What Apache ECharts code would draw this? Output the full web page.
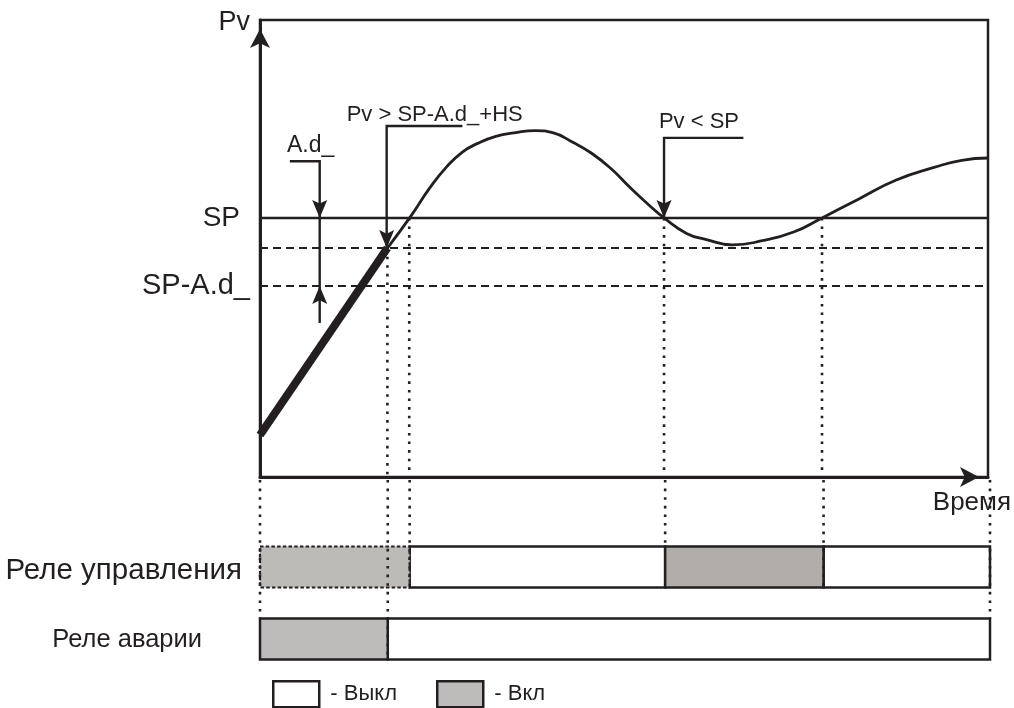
<!DOCTYPE html>
<html><head><meta charset="utf-8">
<script src="https://cdn.jsdelivr.net/npm/echarts@6/dist/echarts.min.js"></script>
<style>html,body{margin:0;padding:0;background:#fff}#c{width:1014px;height:708px}</style>
</head><body><div id="c"></div>
<script>
const INK = '#231f20';
const FONT = '"Liberation Sans", Arial, sans-serif';

// ---- levels (Pv units) ----
const SP = 56.7;      // SP
const SP_HS = 50.1;   // SP-A.d_+HS
const SP_AD = 41.8;   // SP-A.d_

// ---- process value ----
const rampPts = [[0, 9.2], [17.5, 50.1]];
const curvePts = [[17.5,50.1],[20.55,56.7],[23.3,63.2],[25.6,67.8],[27.8,71.1],[29.9,73.0],[32.5,74.6],[34.9,75.3],[37.8,75.8],[40.3,75.3],[42.9,73.3],[45.5,70.9],[48.2,67.5],[50.8,63.4],[53.3,59.7],[55.5,56.7],[58.6,53.3],[61.2,52.0],[64.9,50.8],[69.0,51.7],[73.3,53.6],[77.2,56.7],[82.2,60.8],[87.4,65.0],[92.7,67.8],[96.4,69.3],[100,69.8]];

// ---- relays ----
const relayRows = ['Реле аварии', 'Реле управления'];   // row 0, row 1
const controlOn = [[0, 20.5], [55.5, 77.2]];
const alarmOn = [[0, 17.5]];
const T_END = 100;

// ---- annotations ----
const arrowPaths = [
  [[4.1, 69.1], [8.2, 69.1], [8.2, SP]],
  [[8.2, 33.7], [8.2, SP_AD]],
  [[27.8, 76.8], [17.4, 76.8], [17.4, SP_HS]],
  [[66.4, 74.2], [55.5, 74.2], [55.5, SP]]
];
const plainPaths = [[[8.2, SP], [8.2, SP_AD]]];
const noteTexts = ['Pv > SP-A.d_+HS', 'Pv < SP', 'A.d_'];
const notePos = [[11.9, 79.2], [54.8, 77.7], [3.7, 72.6]];
const noteSizes = [22, 22, 23];

// dotted event markers: time, Pv level where it starts, relay row where it ends, edge
const markers = [
  [0, 0, 0, 'top'],
  [17.5, SP_HS, 0, 'bottom'],
  [20.5, SP, 1, 'bottom'],
  [55.5, SP, 1, 'top'],
  [77.2, SP, 1, 'bottom'],
  [100, 0, 0, 'top']
];

function complement(on, end) {
  const off = []; let cur = 0;
  on.forEach(s => { if (s[0] > cur) off.push([cur, s[0]]); cur = s[1]; });
  if (cur < end) off.push([cur, end]);
  return off;
}
const offData = [];
complement(alarmOn, T_END).forEach(s => offData.push([s[0], s[1], 0]));
complement(controlOn, T_END).forEach(s => offData.push([s[0], s[1], 1]));
const onData = [];
const onColors = [];
const onDashed = [];
alarmOn.forEach(s => { onData.push([s[0], s[1], 0]); onColors.push('#bebcba'); onDashed.push(false); });
controlOn.forEach((s, i) => { onData.push([s[0], s[1], 1]); onColors.push(i === 0 ? '#bdbbb8' : '#b1ada9'); onDashed.push(i === 0); });

const DOT = [2.6, 6];
const BAR_FRAC = 0.57;

function arrowHead(p, q, len, hw) {
  const dx = q[0] - p[0], dy = q[1] - p[1];
  const L = Math.sqrt(dx * dx + dy * dy) || 1;
  const ux = dx / L, uy = dy / L;
  const bx = q[0] - ux * len, by = q[1] - uy * len;
  return [[q[0], q[1]], [bx - uy * hw, by + ux * hw], [q[0] - ux * len * 0.8, q[1] - uy * len * 0.8], [bx + uy * hw, by - ux * hw]];
}

const chart = echarts.init(document.getElementById('c'), null, {renderer: 'canvas'});
const option = {
  backgroundColor: '#fff',
  animation: false,
  textStyle: {fontFamily: FONT, color: INK},
  grid: [
    {left: 260, right: 24, top: 20, height: 457, show: true, borderColor: INK, borderWidth: 2.5, backgroundColor: 'transparent'},
    {left: 260, right: 24, top: 477, height: 198}
  ],
  xAxis: [
    {gridIndex: 0, type: 'value', min: 0, max: T_END,
     axisLine: {show: true, onZero: false, symbol: ['none', 'arrow'], symbolSize: [15, 19], symbolOffset: [0, -9], lineStyle: {color: INK, width: 3}},
     axisTick: {show: false}, axisLabel: {show: false}, splitLine: {show: false},
     name: 'Время', nameLocation: 'end', nameGap: 23,
     nameTextStyle: {fontSize: 26, color: INK, fontFamily: FONT, align: 'right', verticalAlign: 'top', padding: [13, 0, 0, 0]}},
    {gridIndex: 1, type: 'value', min: 0, max: T_END, show: false}
  ],
  yAxis: [
    {gridIndex: 0, type: 'value', min: 0, max: 100,
     axisLine: {show: true, onZero: false, symbol: ['none', 'arrow'], symbolSize: [15, 19], symbolOffset: [0, -9], lineStyle: {color: INK, width: 3}},
     axisTick: {show: false}, splitLine: {show: false},
     axisLabel: {show: true, customValues: [SP, SP_AD], margin: 10,
       formatter: v => (Math.abs(v - SP) < 0.01 ? '{a|SP}' : '{b|SP-A.d_}'),
       rich: {a: {fontSize: 28, color: INK, fontFamily: FONT, padding: [0, 10, 0, 0]}, b: {fontSize: 29, color: INK, fontFamily: FONT}}},
     name: 'Pv', nameLocation: 'end', nameGap: -3,
     nameTextStyle: {fontSize: 27, color: INK, fontFamily: FONT, align: 'right', verticalAlign: 'middle', padding: [0, 10, 0, 0]}},
    {gridIndex: 1, type: 'value', min: -0.5, max: 2.25,
     axisLine: {show: false}, axisTick: {show: false}, splitLine: {show: false},
     axisLabel: {show: true, customValues: [0, 1], margin: 18,
       formatter: v => (v === 1 ? '{c|' + relayRows[1] + '}' : '{a|' + relayRows[0] + '}'),
       rich: {c: {fontSize: 29.5, color: INK, fontFamily: FONT, padding: [8, 0, 0, 0]}, a: {fontSize: 25.5, color: INK, fontFamily: FONT, padding: [2, 40, 0, 0]}}}}
  ],
  legend: {
    left: 272, top: 680, padding: 0, itemWidth: 46, itemHeight: 26, itemGap: 39, icon: 'rect', selectedMode: false,
    formatter: name => ' ' + name,
    textStyle: {fontSize: 22, color: INK, fontFamily: FONT},
    data: [
      {name: '- Выкл', itemStyle: {color: '#fff', borderColor: INK, borderWidth: 2.5}},
      {name: '- Вкл', itemStyle: {color: '#bdbcba', borderColor: INK, borderWidth: 2.5}}
    ]
  },
  series: [
    {type: 'line', xAxisIndex: 0, yAxisIndex: 0, data: curvePts, smooth: 0.5, showSymbol: false, silent: true,
     lineStyle: {color: INK, width: 2.8}, z: 3,
     markLine: {silent: true, symbol: 'none', label: {show: false},
       data: [
         {yAxis: SP, lineStyle: {color: INK, width: 2.4, type: 'solid'}},
         {yAxis: SP_HS, lineStyle: {color: INK, width: 2.2, type: [8, 5]}},
         {yAxis: SP_AD, lineStyle: {color: INK, width: 2.2, type: [8, 5]}}
       ]}},
    {type: 'line', xAxisIndex: 0, yAxisIndex: 0, data: rampPts, showSymbol: false, silent: true,
     lineStyle: {color: INK, width: 8, cap: 'butt'}, z: 3},
    // dotted markers in Pv chart
    {type: 'custom', xAxisIndex: 0, yAxisIndex: 0, silent: true, clip: false, z: 4,
     data: markers.map(m => [m[0], m[1]]),
     renderItem: (params, api) => {
       const a = api.coord([api.value(0), api.value(1)]);
       const b = api.coord([api.value(0), 0]);
       if (Math.abs(a[1] - b[1]) < 1) return null;
       return {type: 'line', shape: {x1: a[0], y1: a[1], x2: b[0], y2: b[1]},
               style: {stroke: INK, lineWidth: 2.6, lineDash: DOT}};
     }},
    // annotation arrows
    {type: 'custom', xAxisIndex: 0, yAxisIndex: 0, silent: true, clip: false, z: 5,
     data: arrowPaths.map(p => p[0]),
     renderItem: (params, api) => {
       const pts = arrowPaths[params.dataIndex].map(p => api.coord(p));
       const n = pts.length;
       return {type: 'group', children: [
         {type: 'polyline', shape: {points: pts}, style: {stroke: INK, lineWidth: 2.4, fill: null}},
         {type: 'polygon', shape: {points: arrowHead(pts[n - 2], pts[n - 1], 18, 7.5)}, style: {fill: INK}}
       ]};
     }},
    {type: 'custom', xAxisIndex: 0, yAxisIndex: 0, silent: true, clip: false, z: 5,
     data: plainPaths.map(p => p[0]),
     renderItem: (params, api) => {
       const pts = plainPaths[params.dataIndex].map(p => api.coord(p));
       return {type: 'polyline', shape: {points: pts}, style: {stroke: INK, lineWidth: 2.4, fill: null}};
     }},
    // annotation texts
    {type: 'custom', xAxisIndex: 0, yAxisIndex: 0, silent: true, clip: false, z: 6,
     data: notePos,
     renderItem: (params, api) => {
       const p = api.coord([api.value(0), api.value(1)]);
       return {type: 'text', x: p[0], y: p[1],
               style: {text: noteTexts[params.dataIndex], fill: INK, fontSize: noteSizes[params.dataIndex], fontFamily: FONT, align: 'left', verticalAlign: 'middle'}};
     }},
    // relay off segments
    {name: '- Выкл', type: 'custom', xAxisIndex: 1, yAxisIndex: 1, silent: true, clip: false, z: 2,
     itemStyle: {color: '#fff'},
     data: offData,
     renderItem: (params, api) => {
       const s = api.coord([api.value(0), api.value(2)]);
       const e = api.coord([api.value(1), api.value(2)]);
       const h = api.size([0, 1])[1] * BAR_FRAC;
       return {type: 'rect', shape: {x: s[0], y: s[1] - h / 2, width: e[0] - s[0], height: h},
               style: {fill: '#fff', stroke: INK, lineWidth: 2.5}};
     }},
    // relay on segments
    {name: '- Вкл', type: 'custom', xAxisIndex: 1, yAxisIndex: 1, silent: true, clip: false, z: 2,
     itemStyle: {color: '#bdbcba'},
     data: onData,
     renderItem: (params, api) => {
       const s = api.coord([api.value(0), api.value(2)]);
       const e = api.coord([api.value(1), api.value(2)]);
       const h = api.size([0, 1])[1] * BAR_FRAC;
       const i = params.dataIndex;
       return {type: 'rect', shape: {x: s[0], y: s[1] - h / 2, width: e[0] - s[0], height: h},
               style: {fill: onColors[i], stroke: INK, lineWidth: onDashed[i] ? 2.2 : 2.5, lineDash: onDashed[i] ? [3.5, 2.2] : null}};
     }},
    // dotted markers in relay area
    {type: 'custom', xAxisIndex: 1, yAxisIndex: 1, silent: true, clip: false, z: 4,
     data: markers.map(m => [m[0], m[2]]),
     renderItem: (params, api) => {
       const top = params.coordSys.y;
       const c = api.coord([api.value(0), api.value(1)]);
       const h = api.size([0, 1])[1] * BAR_FRAC;
       const y2 = markers[params.dataIndex][3] === 'top' ? c[1] - h / 2 : c[1] + h / 2;
       return {type: 'line', shape: {x1: c[0], y1: top + 3, x2: c[0], y2: y2},
               style: {stroke: INK, lineWidth: 2.6, lineDash: DOT}};
     }}
  ]
};
chart.setOption(option);
</script>
</body></html>
